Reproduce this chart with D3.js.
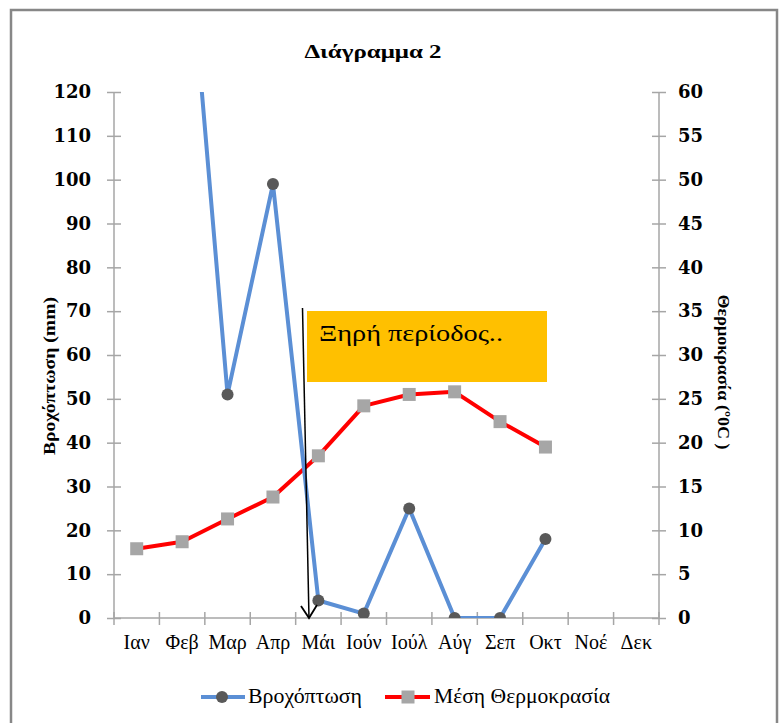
<!DOCTYPE html>
<html>
<head>
<meta charset="utf-8">
<script src="https://cdn.jsdelivr.net/npm/d3@7/dist/d3.min.js"></script>
<style>
  html, body { margin: 0; padding: 0; background: #fff; }
  svg { display: block; }
</style>
</head>
<body>
<svg id="chart" width="780" height="723"></svg>
<script>
// ---- data ----
const months = ["Ιαν", "Φεβ", "Μαρ", "Απρ", "Μάι", "Ιούν", "Ιούλ", "Αύγ", "Σεπ", "Οκτ", "Νοέ", "Δεκ"];
const rainfall = [165, 173, 51, 99, 4, 1, 25, 0, 0, 18, null, null];
const temperature = [7.9, 8.7, 11.3, 13.8, 18.5, 24.2, 25.5, 25.8, 22.4, 19.5, null, null];
const leftTicks = [0, 10, 20, 30, 40, 50, 60, 70, 80, 90, 100, 110, 120];
const rightTicks = [0, 5, 10, 15, 20, 25, 30, 35, 40, 45, 50, 55, 60];
const seriesNames = ["Βροχόπτωση", "Μέση Θερμοκρασία"];
const titleText = "Διάγραμμα 2";
const leftAxisTitle = "Βροχόπτωση (mm)";
const rightAxisTitle = "Θερμοκρασία (º0C )";
const noteText = "Ξηρή περίοδος..";

// ---- layout ----
const svg = d3.select("#chart");
const L = 114, R = 659, T = 92, B = 618;
const blue = "#5B8FD5", red = "#FF0000", axisGray = "#A6A6A6";
const serif = "'DejaVu Serif', 'Liberation Serif', serif";
const tserif = "'Liberation Serif', serif";

// outer border
svg.append("rect").attr("x", 11).attr("y", 10).attr("width", 766).attr("height", 730)
  .attr("fill", "none").attr("stroke", "#878787").attr("stroke-width", 2.5);

const x = d3.scaleBand().domain(months).range([L, R]);
const yL = d3.scaleLinear().domain([0, 120]).range([B, T]);
const yR = d3.scaleLinear().domain([0, 60]).range([B, T]);

// title
svg.append("text").attr("x", 373).attr("y", 58).attr("text-anchor", "middle")
  .attr("font-family", tserif).attr("font-weight", "bold").attr("font-size", 19)
  .attr("textLength", 137).attr("lengthAdjust", "spacingAndGlyphs")
  .text(titleText);

// left axis
const gl = svg.append("g").attr("transform", `translate(${L},0)`)
  .call(d3.axisLeft(yL).tickValues(leftTicks).tickSize(7).tickPadding(16));
gl.selectAll(".tick line").attr("x1", -7).attr("x2", 7);
gl.selectAll("line, path").attr("stroke", axisGray).attr("stroke-width", 1.5);
gl.select(".domain").attr("d", `M0,${T}V${B}`);
gl.selectAll("text").attr("font-family", serif).attr("font-weight", "bold")
  .attr("font-size", 18).attr("fill", "#000");

// right axis
const gr = svg.append("g").attr("transform", `translate(${R},0)`)
  .call(d3.axisRight(yR).tickValues(rightTicks).tickSize(7).tickPadding(12));
gr.selectAll(".tick line").attr("x1", -7).attr("x2", 7);
gr.selectAll("line, path").attr("stroke", axisGray).attr("stroke-width", 1.5);
gr.select(".domain").attr("d", `M0,${T}V${B}`);
gr.selectAll("text").attr("font-family", serif).attr("font-weight", "bold")
  .attr("font-size", 18).attr("fill", "#000");

// bottom axis
const gb = svg.append("g").attr("transform", `translate(0,${B})`)
  .call(d3.axisBottom(x).tickSize(0).tickPadding(17));
gb.select(".domain").attr("d", `M${L},0H${R}`).attr("stroke", axisGray).attr("stroke-width", 1.5);
gb.selectAll("text").attr("font-family", tserif).attr("font-size", 20).attr("fill", "#000");
const boundaries = months.map(m => x(m)).concat([x(months[months.length - 1]) + x.bandwidth()]);
gb.selectAll(".btick").data(boundaries).enter().append("line")
  .attr("x1", d => d).attr("x2", d => d).attr("y1", -6).attr("y2", 7)
  .attr("stroke", axisGray).attr("stroke-width", 1.5);

// axis titles
svg.append("text").attr("transform", "translate(55,376) rotate(-90)")
  .attr("text-anchor", "middle").attr("font-family", tserif).attr("font-weight", "bold")
  .attr("font-size", 17).attr("textLength", 158).attr("lengthAdjust", "spacingAndGlyphs").text(leftAxisTitle);
svg.append("text").attr("transform", "translate(718,372) rotate(90)")
  .attr("text-anchor", "middle").attr("font-family", tserif).attr("font-weight", "bold")
  .attr("font-size", 17).attr("textLength", 155).attr("lengthAdjust", "spacingAndGlyphs").text(rightAxisTitle);

// clip
svg.append("clipPath").attr("id", "plotclip").append("rect")
  .attr("x", L).attr("y", T).attr("width", R - L).attr("height", B - T);
const plot = svg.append("g").attr("clip-path", "url(#plotclip)");
const cx = m => x(m) + x.bandwidth() / 2;

// temperature
const tData = months.map((m, i) => ({ m, v: temperature[i] }));
plot.append("path").datum(tData)
  .attr("d", d3.line().defined(d => d.v != null).x(d => cx(d.m)).y(d => yR(d.v)))
  .attr("fill", "none").attr("stroke", red).attr("stroke-width", 4).attr("stroke-linejoin", "round");
plot.selectAll(".tsq").data(tData.filter(d => d.v != null)).enter().append("rect")
  .attr("x", d => cx(d.m) - 6.5).attr("y", d => yR(d.v) - 6.5)
  .attr("width", 13).attr("height", 13).attr("fill", "#A6A6A6");

// rainfall
const rData = months.map((m, i) => ({ m, v: rainfall[i] }));
plot.append("path").datum(rData)
  .attr("d", d3.line().defined(d => d.v != null).x(d => cx(d.m)).y(d => yL(d.v)))
  .attr("fill", "none").attr("stroke", blue).attr("stroke-width", 4).attr("stroke-linejoin", "round");
plot.selectAll(".rdot").data(rData.filter(d => d.v != null)).enter().append("circle")
  .attr("cx", d => cx(d.m)).attr("cy", d => yL(d.v)).attr("r", 6).attr("fill", "#595959");

// annotation box
svg.append("rect").attr("x", 307).attr("y", 311).attr("width", 240).attr("height", 71).attr("fill", "#FFC000");
svg.append("text").attr("x", 319).attr("y", 341).attr("font-family", tserif)
  .attr("font-size", 24).attr("fill", "#000")
  .attr("textLength", 184).attr("lengthAdjust", "spacingAndGlyphs").text(noteText);

// arrow
svg.append("path").attr("d", "M302.5,308L309,618").attr("stroke", "#000").attr("stroke-width", 1.5).attr("fill", "none");
svg.append("path").attr("d", "M301,606L309,618L317,605").attr("stroke", "#000").attr("stroke-width", 1.8).attr("fill", "none");

// legend
const lg = svg.append("g");
lg.append("line").attr("x1", 201).attr("x2", 245).attr("y1", 697).attr("y2", 697).attr("stroke", blue).attr("stroke-width", 4);
lg.append("circle").attr("cx", 222).attr("cy", 697).attr("r", 6).attr("fill", "#595959");
lg.append("text").attr("x", 248).attr("y", 703).attr("font-family", tserif).attr("font-size", 20)
  .attr("textLength", 114).attr("lengthAdjust", "spacingAndGlyphs").text(seriesNames[0]);
lg.append("line").attr("x1", 385).attr("x2", 430).attr("y1", 697).attr("y2", 697).attr("stroke", red).attr("stroke-width", 4);
lg.append("rect").attr("x", 401.5).attr("y", 690.5).attr("width", 13).attr("height", 13).attr("fill", "#A6A6A6");
lg.append("text").attr("x", 434).attr("y", 703).attr("font-family", tserif).attr("font-size", 20)
  .attr("textLength", 176).attr("lengthAdjust", "spacingAndGlyphs").text(seriesNames[1]);
</script>
</body>
</html>
